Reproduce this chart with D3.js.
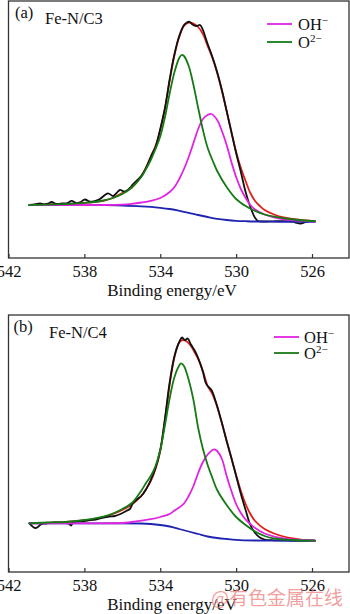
<!DOCTYPE html>
<html><head><meta charset="utf-8">
<script src="https://cdn.jsdelivr.net/npm/d3@7"></script>
<style>html,body{margin:0;padding:0;background:#fff;} svg{display:block}</style>
</head><body>
<svg id="c" width="350" height="614"></svg>
<script>
// ---------- data ----------
const xTicks = [542, 538, 534, 530, 526];
const xTitle = "Binding energy/eV";
const panelLabels = ["(a)", "(b)"];
const sampleNames = ["Fe-N/C3", "Fe-N/C4"];
const legendMain = ["OH", "O"];
const legendSup = ["\u2212", "2\u2212"];
const watermark = "@有色金属在线";

// panel (a): [binding energy eV, intensity a.u.]
const a_raw = [[540.9,53],[540.6,53.5],[540.34,54.7],[540.1,53.5],[539.9,54.5],[539.73,56],[539.46,54],[539.2,54.5],[538.9,55],[538.67,57.2],[538.41,54.7],[538.2,56],[537.97,58.5],[537.71,56.3],[537.45,57],[537.18,59],[536.92,63],[536.75,64.7],[536.48,62],[536.3,65],[536.13,68],[535.87,66.3],[535.6,70],[535.43,74],[535,82],[534.75,90],[534.5,101],[534.25,111],[534,129],[533.75,150],[533.5,179],[533.25,204],[533,222],[532.75,233],[532.6,235.5],[532.45,236.2],[532.3,233.5],[532.1,232],[531.9,233],[531.75,228],[531.5,214],[531.25,201],[531,186],[530.75,168],[530.5,147],[530.25,126],[530,105],[529.75,86],[529.5,66],[529.25,51],[529,40],[528.85,37],[528.5,36.5],[528,36.7],[527.5,36.8],[527,36.5],[526.8,35],[526.6,34.5],[526.4,35.5],[526.2,36.7],[525.85,36.7]];
const a_fit = [[540.9,53],[540,53.5],[539,54.2],[538,55.2],[537.5,56],[537,57.2],[536.5,60],[536,65],[535.5,70.5],[535,82],[534.75,90.5],[534.5,101.5],[534.25,112],[534,128],[533.75,150],[533.5,178],[533.25,203],[533,221],[532.75,232],[532.5,235.3],[532.25,234.5],[532,231],[531.75,224],[531.5,212],[531.25,200],[531,185],[530.75,167],[530.5,147],[530.25,126],[530,106],[529.75,90],[529.5,77],[529.25,65],[529,57],[528.75,52],[528.5,48],[528,43.5],[527.5,40.5],[527,39],[526.5,37.8],[526,37.2],[525.85,37]];
const a_bg = [[540.9,53],[539,53],[537,52.8],[536,52.4],[535,51.7],[534.5,51.1],[534,50.2],[533.5,49],[533,47.2],[532.5,45.2],[532,43],[531.5,41],[531,39.2],[530.5,38],[530,37.2],[529.5,36.8],[529,36.5],[528,36.3],[527,36.2],[525.85,36.2]];
const a_oh = [[540.9,53],[538,53],[537,53],[536,53.4],[535.5,54.2],[535,55.5],[534.5,57.2],[534,60],[533.5,66],[533.25,71],[533,79],[532.75,89],[532.5,101],[532.25,115],[532,129],[531.75,139],[531.5,143],[531.3,144],[531,138],[530.75,127],[530.5,113],[530.25,96],[530,81],[529.75,69],[529.5,60],[529.25,53],[529,48.5],[528.5,43.5],[528,40.5],[527.5,38.7],[527,37.7],[526,36.7],[525.85,36.5]];
const a_o2 = [[540.9,53],[540,53.3],[539,54],[538,55.2],[537.5,56],[537,57.5],[536.5,60],[536,64],[535.5,70.5],[535,81],[534.75,89],[534.5,98],[534.25,109],[534,121.5],[533.75,141],[533.5,165],[533.25,186],[533,200],[532.875,203],[532.75,202],[532.5,192],[532.25,173],[532,150],[531.75,128],[531.5,110],[531.25,98],[531,87],[530.5,71],[530,59],[529.5,52],[529,47],[528.5,43.5],[528,41.3],[527,38.5],[526,37],[525.85,36.8]];

// panel (b)
const b_raw = [[540.9,48.7],[540.6,44],[540.45,45],[540.3,47.5],[540,48.5],[539.5,49.5],[539.1,49],[538.85,48.5],[538.7,46.5],[538.6,49.5],[538.3,50.5],[538,51],[537.7,52],[537.4,52.5],[537,54.5],[536.7,55.5],[536.4,56],[536.1,58],[535.8,61],[535.6,63],[535.45,68.5],[535.2,73],[535,76],[534.75,82.5],[534.5,92],[534.25,104],[534,122],[533.75,154],[533.5,190],[533.25,216],[533,230],[532.85,234.5],[532.7,232],[532.55,233.5],[532.4,228],[532.2,222],[532,214],[531.75,200],[531.6,189],[531.5,186],[531.3,182],[531.1,172],[531,166],[530.75,149],[530.5,131],[530.25,114],[530,96],[529.75,78],[529.5,62],[529.25,47],[529,39],[528.75,34.5],[528.5,32.5],[528,31.7],[527,31.5],[526,31.3],[525.85,31.3]];
const b_fit = [[540.9,48.7],[540,49.2],[539,50],[538,51.5],[537.5,53],[537,55],[536.5,58],[536,62],[535.5,67.5],[535,76],[534.75,83],[534.5,91],[534.25,103],[534,121],[533.75,152],[533.5,188],[533.25,215],[533,229.5],[532.8,232],[532.6,230.5],[532.4,226.5],[532.2,220],[532,213],[531.75,201],[531.5,186],[531.25,178],[531,165],[530.75,149],[530.5,131],[530.25,114],[530,97],[529.75,81],[529.5,68],[529.25,58],[529,51],[528.5,43],[528,38.5],[527.5,35.5],[527,33.5],[526.5,32.2],[526,31.5],[525.85,31.3]];
const b_bg = [[540.9,48.7],[537,48.7],[535,48.5],[534.5,48],[534,47],[533.5,45.5],[533,43],[532.5,40.5],[532,38],[531.5,35.5],[531,34],[530.5,33],[530,32.2],[529,31.5],[528,31.3],[525.85,31.3]];
const b_oh = [[540.9,48.7],[537,48.7],[536,49],[535.5,50],[535,51.3],[534.5,52.8],[534,55],[533.5,58],[533.25,61.5],[533,64.5],[532.75,68.5],[532.5,76],[532.25,86],[532,99],[531.75,110],[531.5,117.5],[531.25,122],[531.15,122.7],[531,121],[530.75,113],[530.5,96],[530.25,81],[530,68],[529.75,59],[529.5,52.5],[529.25,48],[529,44],[528.5,38.5],[528,35.5],[527.5,33.5],[527,32.5],[526,31.5],[525.85,31.3]];
const b_o2 = [[540.9,48.7],[540,49.5],[539,50],[538,52],[537.5,53.4],[537,55.3],[536.5,58.5],[536,63],[535.5,69],[535,81.3],[534.75,89],[534.5,96],[534.25,106],[534,122],[533.75,147],[533.5,174],[533.25,195],[533,206.5],[532.9,208.7],[532.75,206],[532.5,192],[532.25,172],[532,144],[531.75,123],[531.5,107],[531.25,94],[531,82],[530.5,67],[530,55],[529.5,47],[529,40.5],[528.5,36],[528,33.5],[527,32],[526,31.3],[525.85,31.3]];

// ---------- drawing ----------
const FONT = "'Liberation Serif','Times New Roman',serif";
const COL = {raw:"#111111", fit:"#e3201b", bg:"#1f24b0", oh:"#e024e0", o2:"#167a16"};
const svg = d3.select("#c");
const L = 8.5, R = 349;
const x = d3.scaleLinear().domain([542, 524.05]).range([L, R]);

const panels = [
  {top:1, bottom:258, series:{raw:a_raw, fit:a_fit, bg:a_bg, oh:a_oh, o2:a_o2},
   lab:{x:15, y:18}, name:{x:45, y:24}, leg:{x1:267, x2:292, tx:298, y1:24, y2:42}},
  {top:315, bottom:572, series:{raw:b_raw, fit:b_fit, bg:b_bg, oh:b_oh, o2:b_o2},
   lab:{x:13.5, y:332}, name:{x:49, y:338}, leg:{x1:274, x2:299, tx:304, y1:337, y2:353}}
];

panels.forEach((p, i) => {
  const y = d3.scaleLinear().domain([0, 257]).range([p.bottom, p.top]);
  const g = svg.append("g");
  const line = d3.line().x(d => x(d[0])).y(d => y(d[1])).curve(d3.curveCatmullRom.alpha(0.5));

  ["fit", "raw", "bg", "oh", "o2"].forEach(k => {
    g.append("path").datum(p.series[k])
      .attr("d", line).attr("fill", "none")
      .attr("stroke", COL[k]).attr("stroke-width", 1.8)
      .attr("stroke-linejoin", "round").attr("stroke-linecap", "round");
  });

  // frame
  g.append("rect").attr("x", L).attr("y", p.top)
    .attr("width", R - L).attr("height", p.bottom - p.top)
    .attr("fill", "none").attr("stroke", "#333").attr("stroke-width", 1.3);

  // x axis (ticks inside)
  const ax = g.append("g").attr("transform", `translate(0,${p.bottom})`)
    .call(d3.axisBottom(x).tickValues(xTicks).tickSize(-4).tickPadding(7).tickFormat(d3.format("d")));
  ax.select(".domain").remove();
  ax.selectAll(".tick line").attr("stroke", "#333").attr("stroke-width", 1.2);
  ax.selectAll(".tick text").attr("font-family", FONT).attr("font-size", 16.5).attr("fill", "#111");

  g.append("text").attr("x", 172).attr("y", p.bottom + 38)
    .attr("text-anchor", "middle").attr("font-family", FONT).attr("font-size", 17)
    .attr("fill", "#111").text(xTitle);

  g.append("text").attr("x", p.lab.x).attr("y", p.lab.y)
    .attr("font-family", FONT).attr("font-size", 16.5).attr("fill", "#111").text(panelLabels[i]);
  g.append("text").attr("x", p.name.x).attr("y", p.name.y)
    .attr("font-family", FONT).attr("font-size", 16.5).attr("fill", "#111").text(sampleNames[i]);

  // legend
  [["oh", p.leg.y1, 0], ["o2", p.leg.y2, 1]].forEach(([k, ly, j]) => {
    g.append("line").attr("x1", p.leg.x1).attr("x2", p.leg.x2).attr("y1", ly).attr("y2", ly)
      .attr("stroke", COL[k]).attr("stroke-width", 1.8);
    const t = g.append("text").attr("x", p.leg.tx).attr("y", ly + 6)
      .attr("font-family", FONT).attr("font-size", 16.5).attr("fill", "#111");
    t.append("tspan").text(legendMain[j]);
    t.append("tspan").attr("dy", -6).attr("font-size", 11).text(legendSup[j]);
  });
});

svg.append("text").attr("x", 211).attr("y", 605)
  .attr("font-family", "'Noto Sans CJK SC',sans-serif").attr("font-size", 19)
  .attr("fill", "#ee8080").attr("fill-opacity", 0.75).text(watermark);
</script>
</body></html>
